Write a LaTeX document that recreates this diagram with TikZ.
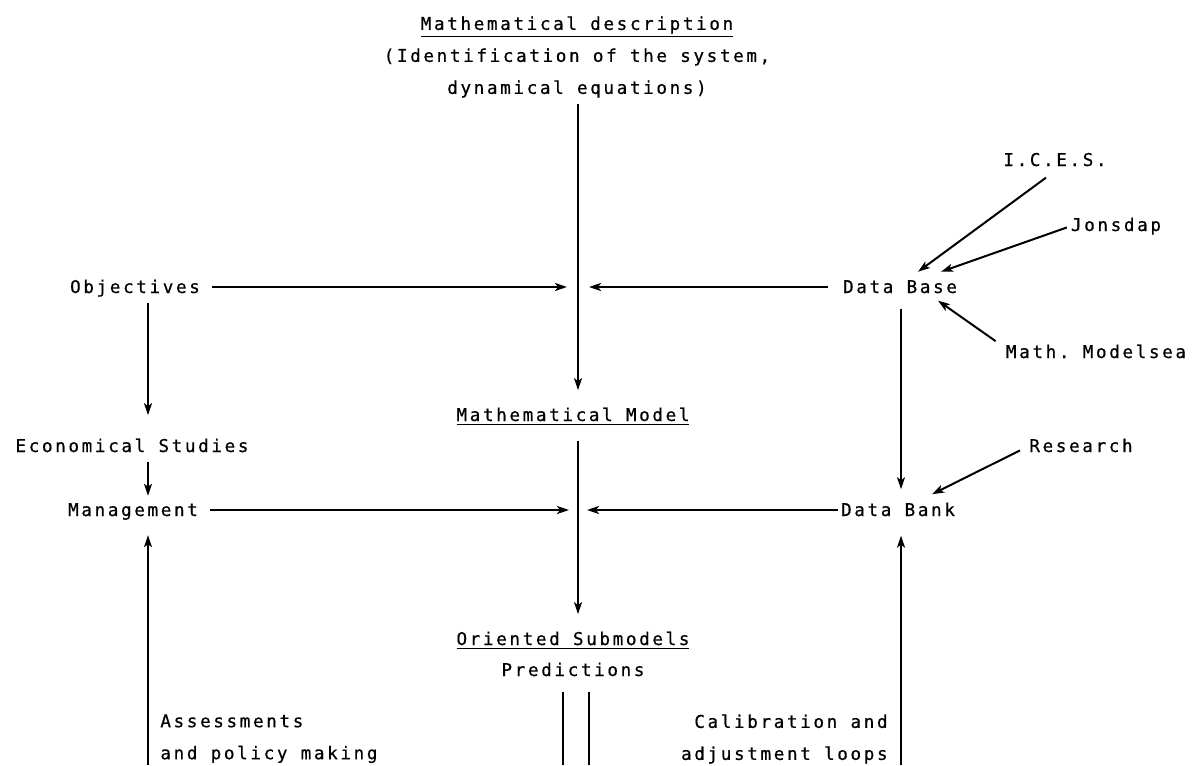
\documentclass[tikz,border=0pt]{standalone}
\usepackage{fontspec}
\setmonofont{DejaVu Sans Mono}[LetterSpace=15,FakeBold=0.6]
\usepackage{tikz}
\usetikzlibrary{arrows.meta,positioning,calc}

\tikzset{
  lbl/.style={font=\ttfamily\fontsize{8.8}{16}\selectfont, inner sep=0pt},
  flow/.style={line width=1pt, -{Stealth[length=6pt,width=4pt,inset=1.5pt]}},
  wide/.style={flow, line width=1.4pt},
  feed/.style={line width=1pt},
}

\begin{document}
\begin{tikzpicture}[x=0.5pt,y=-0.5pt]
  % sea fisheries model scheme, units are pixels of the scan
  \useasboundingbox (0,0) rectangle (1192,765);
  \coordinate (ccol) at (578,0);
  \coordinate (lcol) at (148,0);
  \coordinate (rcol) at (901,0);

  % centre column
  \node[lbl,align=center,anchor=north] (mdesc) at (577,16) {\underline{Mathematical description}\\(Identification of the system,\\dynamical equations)};
  \node[lbl,anchor=base] (mmodel) at (573,421) {\underline{Mathematical Model}};
  \node[lbl,anchor=base] (osub) at (573,645) {\underline{Oriented Submodels}};
  \node[lbl,anchor=base] (pred) at (573,676) {Predictions};

  % left column
  \node[lbl,anchor=base] (obj) at (135,293) {Objectives};
  \node[lbl,anchor=base] (econ) at (132,452) {Economical Studies};
  \node[lbl,anchor=base] (mgmt) at (133,516) {Management};
  \node[lbl,align=left,anchor=north west] (assess) at (160,714) {Assessments\\and policy making};

  % right column
  \node[lbl,anchor=base] (dbase) at (900,293) {Data Base};
  \node[lbl,anchor=base] (dbank) at (898,516) {Data Bank};
  \node[lbl,align=right,anchor=north east] (calib) at (888,714) {Calibration and\\adjustment loops};
  \node[lbl,anchor=base] (ices) at (1055,166) {I.C.E.S.};
  \node[lbl,anchor=base] (jons) at (1116,231) {Jonsdap};
  \node[lbl,anchor=base] (msea) at (1096,358) {Math. Modelsea};
  \node[lbl,anchor=base] (res) at (1081,452) {Research};

  % ends on the centre line and at the foot
  \coordinate (objin) at (567,287);
  \coordinate (dbin) at (589,287);
  \coordinate (mgin) at (569,510);
  \coordinate (dkin) at (587,510);
  \coordinate (lfoot) at (148,765);
  \coordinate (rfoot) at (901,765);
  \coordinate (dl) at (563,765);
  \coordinate (dr) at (589,765);

  \draw[flow,shorten <=3pt,shorten >=8.5pt] (mdesc.south -| ccol) -- (mmodel.north -| ccol);
  \draw[flow,shorten <=7.5pt,shorten >=8.5pt] (mmodel.south -| ccol) -- (osub.north -| ccol);
  \draw[feed,shorten <=7.5pt] (pred.south -| dl) -- (dl);
  \draw[feed,shorten <=7.5pt] (pred.south -| dr) -- (dr);

  \draw[wide,shorten <=6pt] (obj.east |- objin) -- (objin);
  \draw[wide,shorten <=7.5pt] (dbase.west |- dbin) -- (dbin);
  \draw[wide,shorten <=6pt] (mgmt.east |- mgin) -- (mgin);
  \draw[wide,shorten <=1.5pt] (dbank.west |- dkin) -- (dkin);

  \draw[flow,shorten <=3pt,shorten >=11.5pt] (obj.south -| lcol) -- (econ.north -| lcol);
  \draw[flow,shorten <=4.5pt,shorten >=3.5pt] (econ.south -| lcol) -- (mgmt.north -| lcol);
  \draw[flow,shorten >=7.5pt] (lfoot) -- (mgmt.south -| lfoot);

  \draw[flow,shorten <=7.5pt,shorten >=6.5pt] (dbase.south -| rcol) -- (dbank.north -| rcol);
  \draw[flow,shorten >=9.5pt] (rfoot) -- (dbank.south -| rfoot);

  \draw[flow] ([xshift=-4.5pt,yshift=-5.5pt]ices.south) -- ([xshift=9pt,yshift=4pt]dbase.north);
  \draw[flow,shorten <=2pt] (jons.west) -- ([xshift=20.5pt,yshift=4pt]dbase.north);
  \draw[flow] ([xshift=-5pt,yshift=1.5pt]msea.north west) -- ([xshift=19pt,yshift=-3.5pt]dbase.south);
  \draw[flow] ([xshift=-4.5pt,yshift=-2.5pt]res.west) -- ([xshift=17pt,yshift=4pt]dbank.north);
\end{tikzpicture}
\end{document}
